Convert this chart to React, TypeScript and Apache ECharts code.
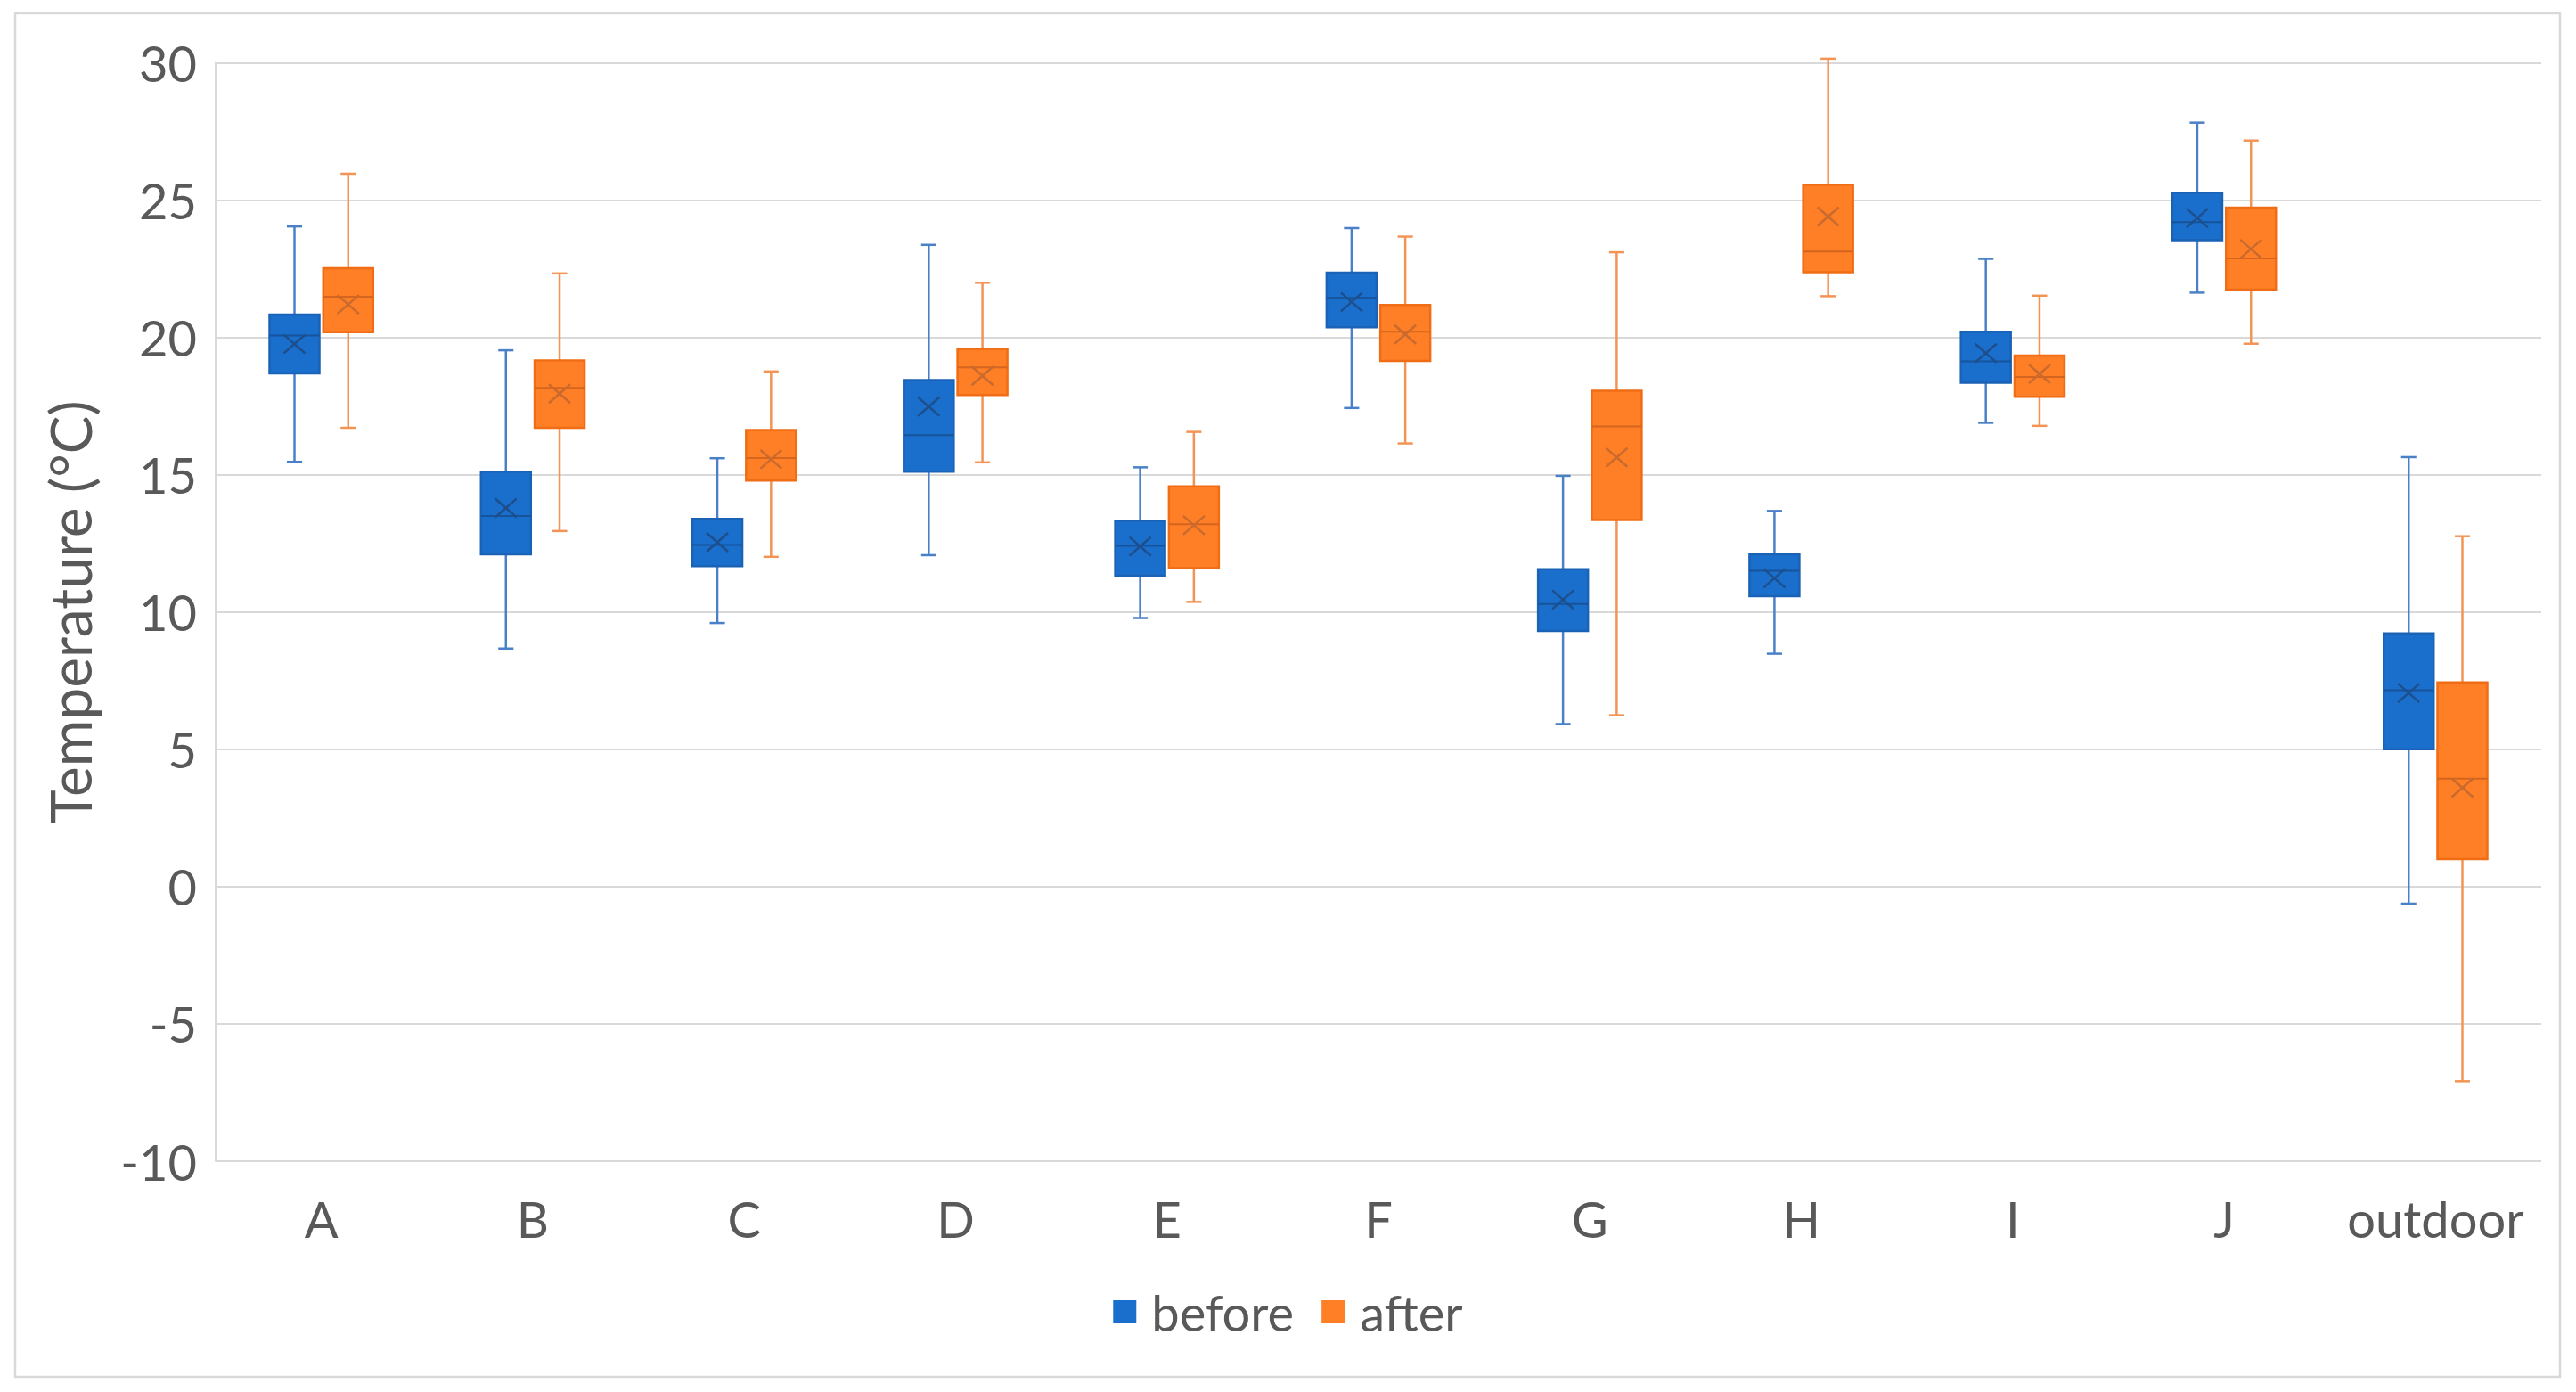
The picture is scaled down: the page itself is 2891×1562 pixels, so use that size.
import React, { useEffect, useRef } from 'react';
import * as echarts from 'echarts';

const categories = ['A', 'B', 'C', 'D', 'E', 'F', 'G', 'H', 'I', 'J', 'outdoor'];
const yMinTick = -10;
const yMaxTick = 30;
const yStep = 5;

// "before" series five-number summary + mean
const beforeMin = [15.47, 8.67, 9.6, 12.07, 9.78, 17.43, 5.92, 8.48, 16.89, 21.63, -0.62];
const beforeQ1 = [18.69, 12.1, 11.67, 15.11, 11.32, 20.37, 9.31, 10.58, 18.35, 23.54, 5.0];
const beforeMedian = [20.07, 13.5, 12.44, 16.44, 12.41, 21.44, 10.29, 11.5, 19.13, 24.2, 7.15];
const beforeQ3 = [20.83, 15.11, 13.39, 18.45, 13.33, 22.36, 11.56, 12.1, 20.21, 25.27, 9.22];
const beforeMax = [24.04, 19.53, 15.6, 23.37, 15.27, 23.98, 14.96, 13.68, 22.86, 27.82, 15.64];
const beforeMean = [19.76, 13.79, 12.54, 17.48, 12.39, 21.29, 10.45, 11.23, 19.43, 24.35, 7.05];

// "after" series five-number summary + mean
const afterMin = [16.71, 12.95, 12.01, 15.45, 10.37, 16.14, 6.24, 21.5, 16.78, 19.77, -7.09];
const afterQ1 = [20.19, 16.71, 14.79, 17.9, 11.6, 19.14, 13.35, 22.37, 17.84, 21.74, 1.0];
const afterMedian = [21.48, 18.16, 15.61, 18.91, 13.2, 20.21, 16.76, 23.13, 18.56, 22.88, 3.93];
const afterQ3 = [22.52, 19.16, 16.63, 19.58, 14.58, 21.18, 18.06, 25.56, 19.34, 24.73, 7.44];
const afterMax = [25.96, 22.33, 18.76, 21.99, 16.56, 23.67, 23.1, 30.15, 21.52, 27.17, 12.76];
const afterMean = [21.2, 17.95, 15.56, 18.6, 13.16, 20.11, 15.63, 24.4, 18.67, 23.22, 3.6];

const FONT = 'Lato';
const TEXT = '#595959';
const GRID = '#d9d9d9';

type Colors = { fill: string; border: string; median: string; mean: string; whisker: string };

const beforeColors: Colors = {
  fill: '#1b6fcc',
  border: '#1a62b5',
  median: '#16539a',
  mean: '#1c4f8c',
  whisker: '#4a80c8',
};
const afterColors: Colors = {
  fill: '#fe7f26',
  border: '#f06d16',
  median: '#d5651e',
  mean: '#c96a2e',
  whisker: '#f39455',
};

function makeSeries(
  name: string,
  sign: number,
  mins: number[],
  q1s: number[],
  meds: number[],
  q3s: number[],
  maxs: number[],
  means: number[],
  c: Colors
) {
  return {
    type: 'custom',
    name,
    clip: false,
    itemStyle: { color: c.fill },
    encode: { x: 0, y: [1, 2, 3, 4, 5, 6] },
    data: categories.map((_, i) => [i, mins[i], q1s[i], meds[i], q3s[i], maxs[i], means[i]]),
    renderItem: (params: any, api: any) => {
      const i = api.value(0);
      const band = api.size([1, 0])[0];
      const off = sign * band * 0.127;
      const bw = band * 0.236;
      const capHalf = band * 0.036;
      const pt = (k: number) => api.coord([i, api.value(k)]);
      const cx = pt(1)[0] + off;
      const yMin = pt(1)[1];
      const yQ1 = pt(2)[1];
      const yMed = pt(3)[1];
      const yQ3 = pt(4)[1];
      const yMax = pt(5)[1];
      const yMean = pt(6)[1];
      const wStyle = { stroke: c.whisker, lineWidth: 2.5 };
      const mx = 12;
      const my = 10.5;
      return {
        type: 'group',
        children: [
          { type: 'line', shape: { x1: cx, y1: yMax, x2: cx, y2: yQ3 }, style: wStyle },
          { type: 'line', shape: { x1: cx, y1: yQ1, x2: cx, y2: yMin }, style: wStyle },
          { type: 'line', shape: { x1: cx - capHalf, y1: yMax, x2: cx + capHalf, y2: yMax }, style: wStyle },
          { type: 'line', shape: { x1: cx - capHalf, y1: yMin, x2: cx + capHalf, y2: yMin }, style: wStyle },
          {
            type: 'rect',
            shape: { x: cx - bw / 2, y: yQ3, width: bw, height: yQ1 - yQ3 },
            style: { fill: c.fill, stroke: c.border, lineWidth: 2.5 },
          },
          {
            type: 'line',
            shape: { x1: cx - bw / 2, y1: yMed, x2: cx + bw / 2, y2: yMed },
            style: { stroke: c.median, lineWidth: 2 },
          },
          {
            type: 'line',
            shape: { x1: cx - mx, y1: yMean - my, x2: cx + mx, y2: yMean + my },
            style: { stroke: c.mean, lineWidth: 2.5 },
          },
          {
            type: 'line',
            shape: { x1: cx - mx, y1: yMean + my, x2: cx + mx, y2: yMean - my },
            style: { stroke: c.mean, lineWidth: 2.5 },
          },
        ],
      };
    },
  };
}

export default function App() {
  const ref = useRef<HTMLDivElement>(null);
  useEffect(() => {
    if (!ref.current) return;
    const chart = echarts.init(ref.current, undefined, { renderer: 'svg' });
    chart.setOption({
      animation: false,
      backgroundColor: '#ffffff',
      textStyle: { fontFamily: FONT },
      graphic: [
        {
          type: 'rect',
          silent: true,
          z: -1,
          shape: { x: 17, y: 15, width: 2856, height: 1530 },
          style: { fill: 'none', stroke: GRID, lineWidth: 2.5 },
        },
      ],
      grid: { left: 242, top: 70.5, right: 39, bottom: 259 },
      legend: {
        data: ['before', 'after'],
        left: 'center',
        top: 1444,
        padding: 0,
        icon: 'rect',
        itemWidth: 26,
        itemHeight: 26,
        itemGap: 31,
        textStyle: { fontSize: 56, color: TEXT, fontFamily: FONT, padding: [0, 0, 0, 12] },
      },
      xAxis: {
        type: 'category',
        data: categories,
        axisLine: { show: false },
        axisTick: { show: false },
        splitLine: { show: false },
        axisLabel: { interval: 0, fontSize: 56, color: TEXT, margin: 36, fontFamily: FONT },
      },
      yAxis: {
        type: 'value',
        min: yMinTick,
        max: yMaxTick,
        interval: yStep,
        axisLine: { show: true, lineStyle: { color: GRID, width: 2 } },
        axisTick: { show: false },
        splitLine: { show: true, lineStyle: { color: GRID, width: 2 } },
        axisLabel: { fontSize: 56, color: TEXT, margin: 21, fontFamily: FONT },
        name: 'Temperature (°C)',
        nameLocation: 'middle',
        nameGap: 132,
        nameTextStyle: { fontSize: 64, color: TEXT, fontFamily: FONT },
      },
      series: [
        makeSeries('before', -1, beforeMin, beforeQ1, beforeMedian, beforeQ3, beforeMax, beforeMean, beforeColors),
        makeSeries('after', 1, afterMin, afterQ1, afterMedian, afterQ3, afterMax, afterMean, afterColors),
      ],
    });
    return () => chart.dispose();
  }, []);
  return (
    <div
      ref={ref}
      style={{ position: 'absolute', left: 0, top: 0, width: 2891, height: 1562, background: '#fff' }}
    />
  );
}
